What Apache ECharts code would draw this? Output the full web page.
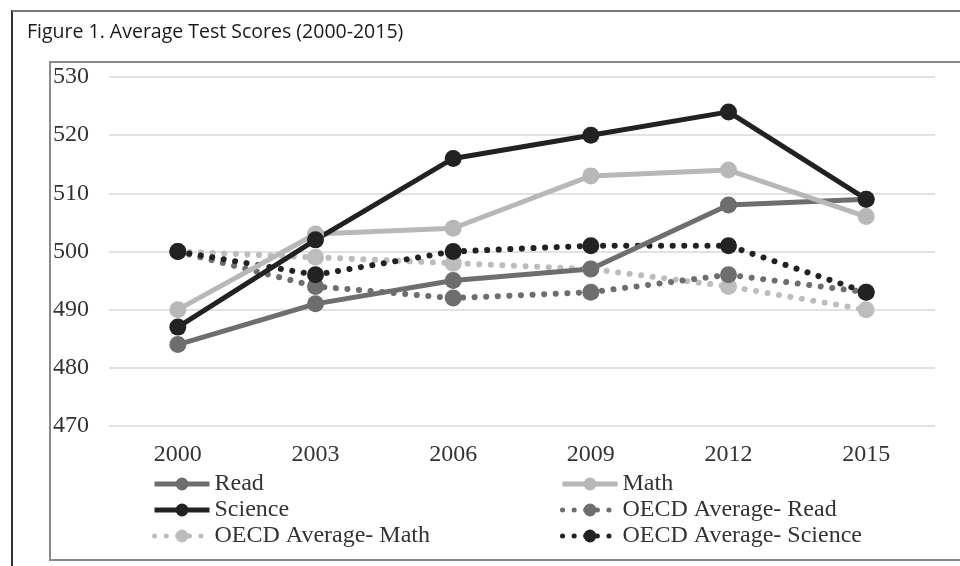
<!DOCTYPE html>
<html>
<head>
<meta charset="utf-8">
<script src="https://cdn.jsdelivr.net/npm/echarts@6/dist/echarts.min.js"></script>
<style>
  html, body { margin: 0; padding: 0; background: #fff; }
  #chart { width: 960px; height: 566px; }
</style>
</head>
<body>
<div id="chart"></div>
<script>
// years on the x axis
const years = ["2000", "2003", "2006", "2009", "2012", "2015"];

// country scores
const read = [484, 491, 495, 497, 508, 509];
const math = [490, 503, 504, 513, 514, 506];
const science = [487, 502, 516, 520, 524, 509];

// OECD averages
const oecdRead = [500, 494, 492, 493, 496, 493];
const oecdMath = [500, 499, 498, 497, 494, 490];
const oecdScience = [500, 496, 500, 501, 501, 493];

const chart = echarts.init(document.getElementById("chart"));

const serif = "Liberation Serif";

function solid(name, data, color) {
  return {
    name: name,
    type: "line",
    data: data,
    symbol: "circle",
    symbolSize: 17,
    itemStyle: { color: color },
    lineStyle: { color: color, width: 5 },
  };
}

function dotted(name, data, color) {
  return {
    name: name,
    type: "line",
    data: data,
    symbol: "circle",
    symbolSize: 17,
    itemStyle: { color: color },
    lineStyle: { color: color, width: 6, type: [0.1, 11.5], cap: "round" },
  };
}

const legendText = { fontFamily: serif, fontSize: 24, color: "#333", lineHeight: 24 };

// both legend columns share the same look
function legendCol(left, names) {
  return {
    orient: "vertical",
    left: left,
    top: 472,
    padding: 0,
    itemWidth: 55,
    itemHeight: 16,
    itemGap: 2,
    lineStyle: { width: 5 },
    data: names,
    textStyle: legendText,
  };
}

const option = {
  animation: false,
  backgroundColor: "#fff",
  title: {
    text: "Figure 1. Average Test Scores (2000-2015)",
    left: 27,
    top: 22,
    padding: 0,
    textStyle: { fontFamily: "Open Sans", fontSize: 19.5, fontWeight: "normal", color: "#1a1a1a" },
  },
  graphic: [
    { type: "line", shape: { x1: 12, y1: 10, x2: 12, y2: 566 }, style: { stroke: "#333", lineWidth: 2 } },
    { type: "line", shape: { x1: 12, y1: 11, x2: 960, y2: 11 }, style: { stroke: "#777", lineWidth: 2 } },
    { type: "rect", shape: { x: 50, y: 62, width: 940, height: 498 }, style: { fill: null, stroke: "#8a8a8a", lineWidth: 2 } },
  ],
  legend: [
    legendCol(152, ["Read", "Science", "OECD Average- Math"]),
    legendCol(560, ["Math", "OECD Average- Read", "OECD Average- Science"]),
  ],
  grid: { left: 109, right: 25, top: 77, bottom: 140 },
  xAxis: {
    type: "category",
    data: years,
    boundaryGap: true,
    axisLine: { show: false },
    axisTick: { show: false },
    axisLabel: { fontFamily: serif, fontSize: 24, color: "#333", margin: 17 },
  },
  yAxis: {
    type: "value",
    min: 470,
    max: 530,
    interval: 10,
    axisLine: { show: false },
    axisTick: { show: false },
    splitLine: { lineStyle: { color: "#d9d9d9", width: 1.5 } },
    axisLabel: { fontFamily: serif, fontSize: 24, color: "#333", margin: 56, align: "left" },
  },
  series: [
    dotted("OECD Average- Math", oecdMath, "#bdbdbd"),
    dotted("OECD Average- Read", oecdRead, "#6e6e6e"),
    dotted("OECD Average- Science", oecdScience, "#222222"),
    solid("Read", read, "#6e6e6e"),
    solid("Math", math, "#b8b8b8"),
    solid("Science", science, "#222222"),
  ],
};

chart.setOption(option);
</script>
</body>
</html>
